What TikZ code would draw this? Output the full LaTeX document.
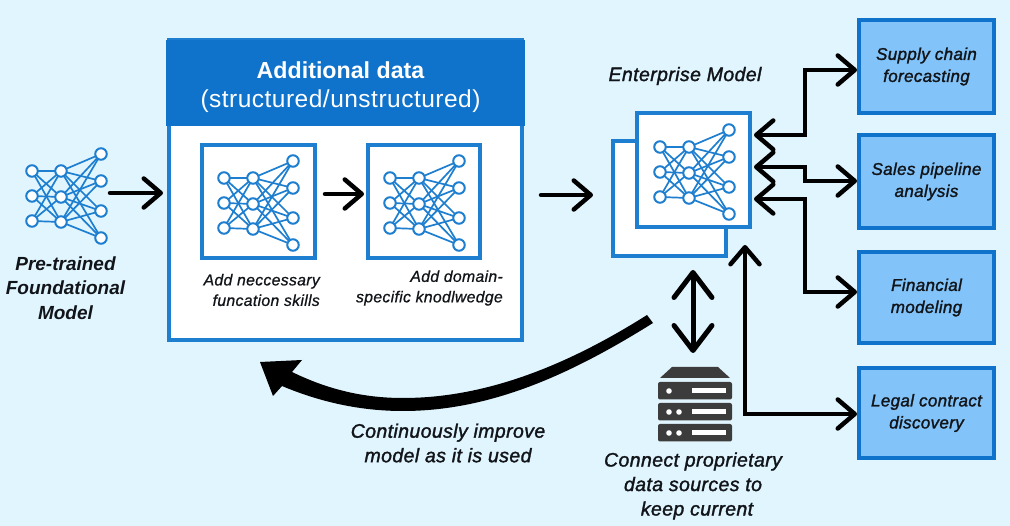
\documentclass[tikz,border=0pt]{standalone}
\usepackage{fontspec}
\setmainfont{Liberation Sans}
\newfontfamily\medfont[LetterSpace=2,ItalicFeatures={FakeBold=1.5}]{Liberation Sans}
\newfontfamily\lightfont[LetterSpace=2,ItalicFeatures={FakeBold=0.7}]{Liberation Sans}
\newfontfamily\hdrfont[LetterSpace=2]{Liberation Sans}
\usetikzlibrary{arrows.meta,calc}
\definecolor{bgc}{HTML}{E1F5FE}
\definecolor{netc}{HTML}{1E7FD0}
\definecolor{edgec}{HTML}{0F72CB}
\definecolor{boxc}{HTML}{82C3F9}
\definecolor{inkc}{HTML}{111418}
\definecolor{srvc}{HTML}{3C3C3C}
\tikzset{
  nn/.style={circle,draw=netc,fill=white,line width=2pt,minimum size=11.5pt,inner sep=0pt,outer sep=0pt},
  nnedge/.style={draw=netc,line width=1.7pt},
  framebox/.style={rectangle,draw=netc,fill=white,line width=4pt,inner sep=0pt,outer sep=0pt},
  usecase/.style={rectangle,draw=edgec,fill=boxc,line width=4pt,inner sep=0pt,outer sep=0pt,align=center,text=inkc,font=\medfont\itshape\fontsize{17}{22}\selectfont},
  conn/.style={draw=black,line width=4.5pt,line cap=round,line join=miter,-{Straight Barb[length=17pt,width=29pt,round]}},
  dconn/.style={draw=black,line width=4.5pt,line cap=round,line join=miter,{Straight Barb[length=17pt,width=29pt,round]}-{Straight Barb[length=17pt,width=29pt,round]}},
  lab/.style={align=center,text=inkc,inner sep=0pt,font=\medfont\itshape\fontsize{19.5}{24.5}\selectfont},
  smalllab/.style={align=right,text=inkc,inner sep=0pt,font=\lightfont\itshape\fontsize{15.8}{20.5}\selectfont},
}
\newcommand{\nnet}[3]{%
  \foreach \i/\dy in {1/0,2/25,3/50} \node[nn] (#1a\i) at (#2,#3+\dy) {};
  \foreach \i/\dy in {1/0,2/26,3/51} \node[nn] (#1b\i) at (#2+29,#3+\dy) {};
  \foreach \i/\dy in {1/-17,2/10,3/40,4/67} \node[nn] (#1c\i) at (#2+69,#3+\dy) {};
  \foreach \i in {1,2,3} {
    \foreach \j in {1,2,3} \draw[nnedge] (#1a\i) -- (#1b\j);
    \foreach \j in {1,2,3,4} \draw[nnedge] (#1b\i) -- (#1c\j);
  }%
}
\begin{document}
\begin{tikzpicture}[x=1pt,y=-1pt]
\useasboundingbox (0,0) rectangle (1010,526);
\fill[bgc] (0,0) rectangle (1010,526);

% main panel
\node[framebox,minimum width=353pt,minimum height=300pt] (panel) at (345.5,190) {};
\node[rectangle,fill=edgec,minimum width=359pt,minimum height=86pt,inner sep=0pt,outer sep=0pt] (header) at (345.5,83) {};
\node[inner sep=0pt,align=center,text=white,font=\fontsize{23.2}{29}\selectfont] (headertext) at (340.5,87)
  {{\bfseries Additional data}\\{\hdrfont\fontsize{24.5}{29}\selectfont (structured/unstructured)}};
\node[framebox,minimum width=113pt,minimum height=113pt] (skillbox) at (258.5,201.5) {};
\node[framebox,minimum width=112pt,minimum height=113pt] (domainbox) at (424,201.5) {};
\nnet{p}{32}{171}
\nnet{s}{224}{178}
\nnet{d}{390}{178}

% enterprise model
\node[framebox,minimum width=113pt,minimum height=115pt] (back) at (669.5,198.5) {};
\node[framebox,minimum width=113pt,minimum height=114pt] (front) at (693.5,170) {};
\nnet{e}{660}{147}

% use cases
\node[usecase,minimum width=135pt,minimum height=93pt] (supply) at (926.5,66.5) {Supply chain\\forecasting};
\node[usecase,minimum width=135pt,minimum height=93pt] (sales) at (926.5,181.5) {Sales pipeline\\analysis};
\node[usecase,minimum width=135pt,minimum height=91pt] (fin) at (926.5,297.5) {Financial\\modeling};
\node[usecase,minimum width=135pt,minimum height=90pt] (legal) at (926.5,413) {Legal contract\\discovery};

% labels
\node[lab,font=\bfseries\itshape\fontsize{19}{24.5}\selectfont] (pretrained) at (65.5,288) {Pre-trained\\Foundational\\Model};
\node[lab] (entlab) at (685,76) {Enterprise Model};
\node[smalllab,anchor=east] (skilllab) at (320,290) {Add neccessary\\funcation skills};
\node[smalllab,anchor=east] (domlab) at (503,288) {Add domain-\\specific knodlwedge};
\node[lab] (improve) at (448,443) {Continuously improve\\model as it is used};
\node[lab] (connect) at (693,486) {Connect proprietary\\data sources to\\\hspace*{8pt}keep current};

% server icon
\fill[srvc] (660,378) -- (672,367) -- (718,367) -- (730,378) -- cycle;
\foreach \y/\d in {391/1,412/2,433/2} {
  \fill[srvc,rounded corners=2pt] (658,\y-9) rectangle (732,\y+8.5);
  \fill[white] (692,\y-2.5) rectangle (726,\y+2.5);
  \fill[white] (669,\y) circle (2.8pt);
  \ifnum\d=2 \fill[white] (679,\y) circle (2.8pt);\fi
}
\node[inner sep=0pt,minimum width=74pt,minimum height=74pt] (server) at (695,404) {};

% connectors
\coordinate (a1s) at (110,193);
\draw[conn] (a1s) -- ([xshift=-6pt]panel.west |- a1s);
\draw[conn] ([xshift=10pt,yshift=7.5pt]skillbox.east) -- ([xshift=-4pt,yshift=7.5pt]domainbox.west);
\coordinate (a3s) at (541,195);
\draw[conn] (a3s) -- ([xshift=-20pt]back.west |- a3s);

\coordinate (j1) at (805,70);
\draw[dconn] ([yshift=35pt,xshift=4pt]front.east) -| (j1) -- ([yshift=-3.5pt,xshift=-2pt]supply.west);
\draw[dconn] ([yshift=3pt,xshift=4pt]front.east) -| (805,181) -- ([yshift=.5pt,xshift=-2pt]sales.west);
\draw[dconn] ([yshift=-29pt,xshift=4pt]front.east) -| (805,292) -- ([yshift=5.5pt,xshift=-2pt]fin.west);
\coordinate (j4) at (745,414);
\draw[dconn] (745,245) -- (j4) -- ([xshift=-2pt,yshift=-1pt]legal.west);
\draw[line width=5pt,line cap=round,{Straight Barb[length=25pt,width=38pt,round]}-{Straight Barb[length=25pt,width=38pt,round]}] (693,270) -- (693,353);

% improvement loop
\coordinate (loopa) at (647,315);
\coordinate (loopb) at (653,323);
\fill[black] (loopa) .. controls (560,370) and (480,398) .. (403,398)
  .. controls (360,398) and (325,388) .. (292,372)
  -- (302,360) -- (260,362) -- (273,396) -- (282,386)
  .. controls (320,402) and (360,411) .. (403,411)
  .. controls (490,411) and (570,375) .. (loopb) -- cycle;
\end{tikzpicture}
\end{document}
